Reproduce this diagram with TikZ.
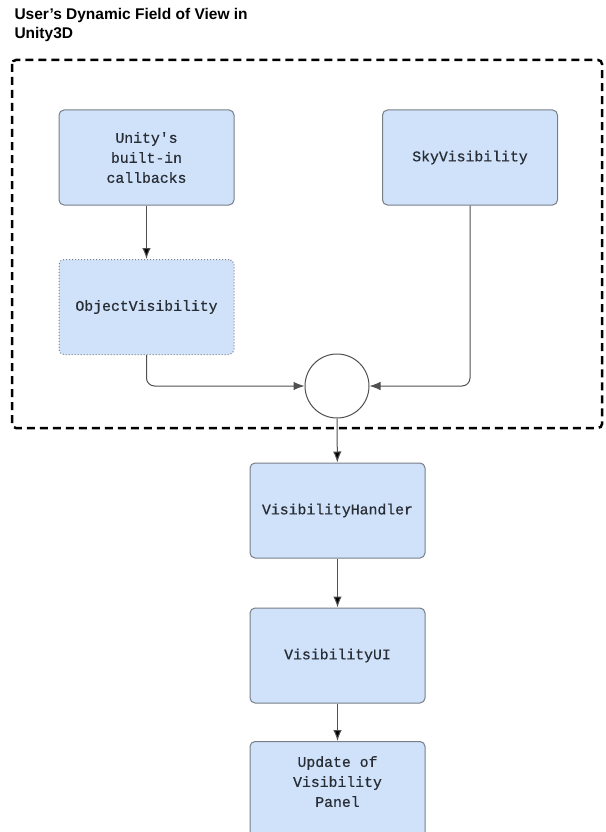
\documentclass[tikz,border=0pt]{standalone}
\usepackage{fontspec}
\setmainfont{Liberation Sans}
\newfontfamily\boxfont{Liberation Mono}[FakeBold=0.6]
\usetikzlibrary{arrows.meta}
\definecolor{boxfill}{RGB}{207,226,250}
\definecolor{boxline}{RGB}{120,126,134}
\definecolor{flowline}{RGB}{80,80,80}
\definecolor{boxtext}{RGB}{40,44,52}
\begin{document}
\begin{tikzpicture}[x=1pt, y=-1pt, line width=1pt,
  class node/.style={rectangle,rounded corners=5pt,draw=boxline,fill=boxfill,minimum width=175pt,minimum height=95pt,align=center,text=boxtext,font=\boxfont\fontsize{14.8}{20}\selectfont},
  merge node/.style={circle,draw=flowline,fill=white,minimum size=64pt,inner sep=0pt},
  flow/.style={draw=flowline,-{Latex[length=11pt,width=8.5pt]}}]
\useasboundingbox (0,0) rectangle (605,832);
\node [anchor=north west,align=left,inner sep=0pt,font=\bfseries\fontsize{15.5}{18.5}\selectfont] (title) at (14,8) {User's Dynamic Field of View in\\Unity3D};
\draw [line width=2.5pt,dash pattern=on 8pt off 5pt,rounded corners=4pt] (12,60) rectangle (602,428);
\node [class node](callbacks) at (146.5,157.5) {Unity's\\built-in\\callbacks};
\node [class node,dotted](objvis) at (146.5,307) {ObjectVisibility};
\node [class node](skyvis) at (470,157.5) {SkyVisibility};
\node [merge node](join) at (337,386) {};
\node [class node](handler) at (337.5,510.5) {VisibilityHandler};
\node [class node](ui) at (337.5,655.5) {VisibilityUI};
\node [class node,minimum height=100pt,anchor=north](panel) at (337.5,741) {Update of\\Visibility\\Panel\\};
\path [flow]
    (callbacks) edge (objvis)
    (join) edge (handler)
    (handler) edge (ui)
    (ui) edge (panel);
\draw [flow,rounded corners=8pt] (objvis.south) |- (join.west);
\draw [flow,rounded corners=8pt] (skyvis.south) |- (join.east);
\end{tikzpicture}
\end{document}
